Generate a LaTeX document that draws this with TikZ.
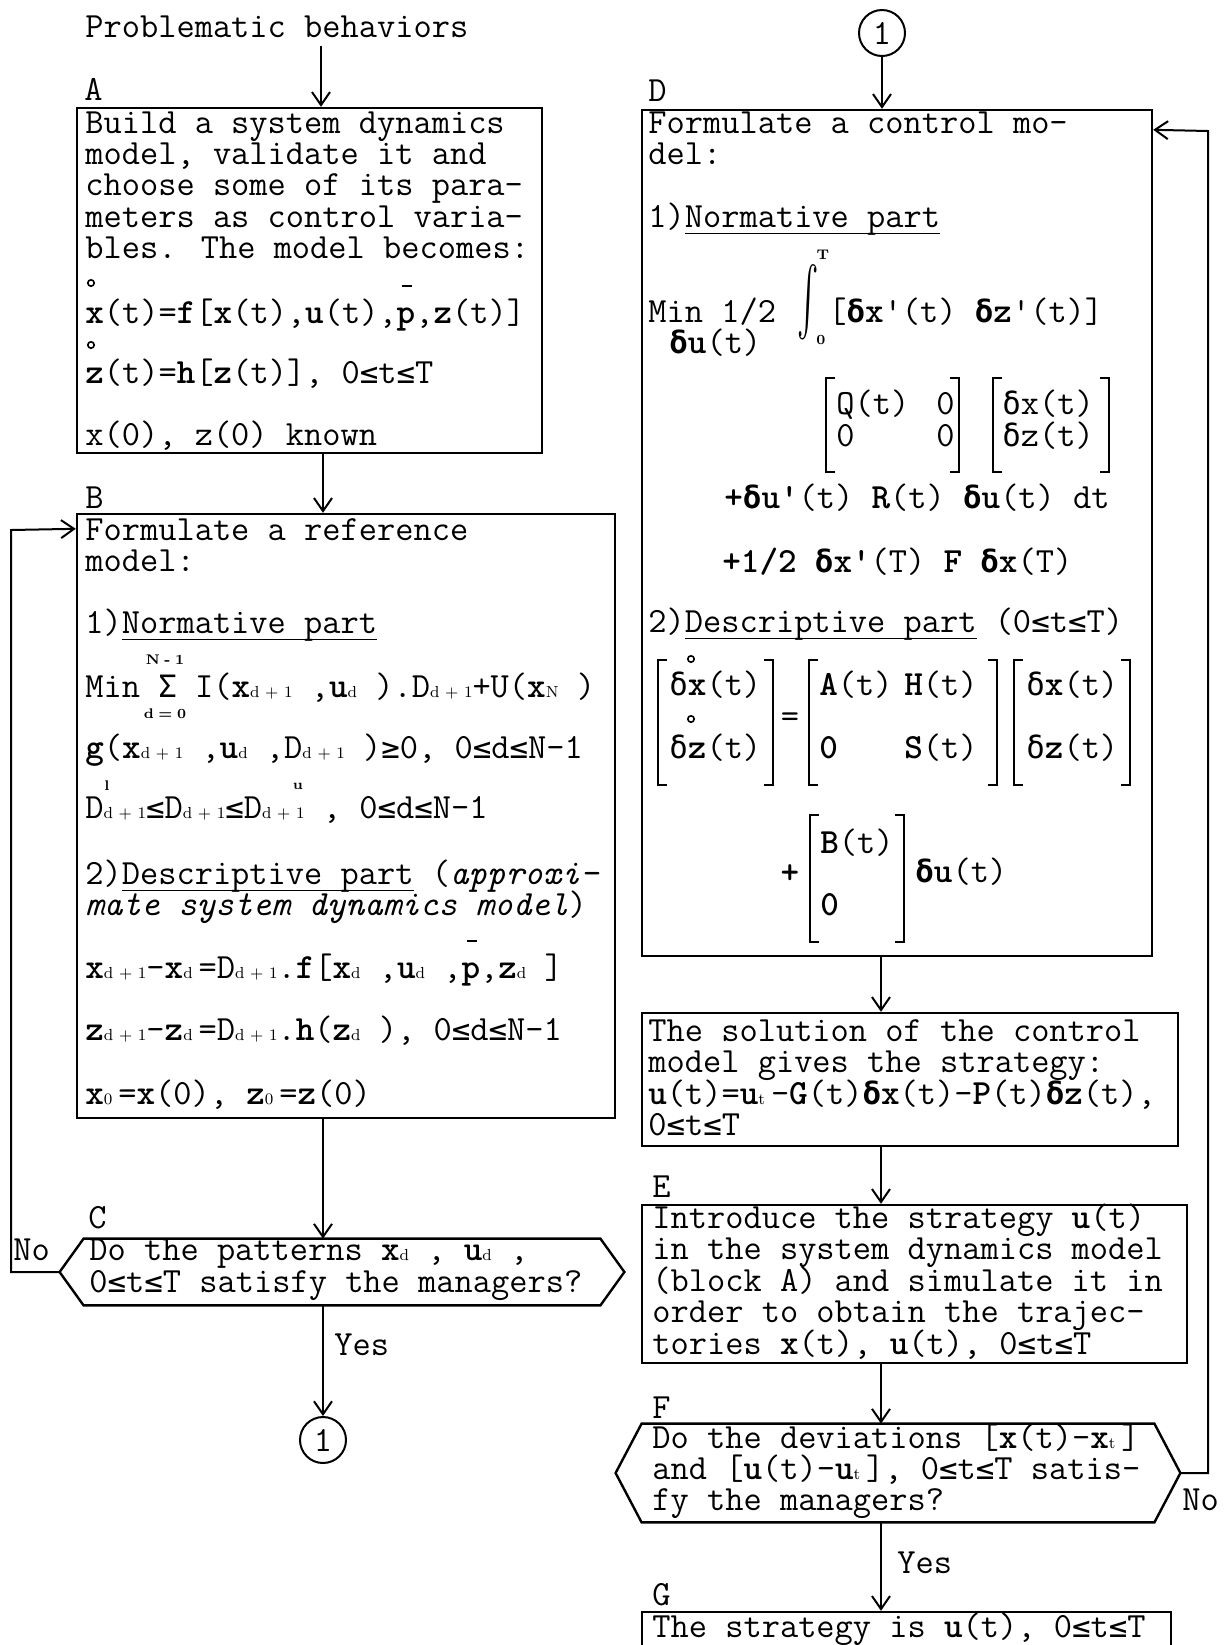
\documentclass[tikz,border=0pt]{standalone}
\usepackage{fontspec}
\newfontfamily\dvs{DejaVu Sans Mono}[Scale=0.87]
\usetikzlibrary{arrows.meta,fit,calc}
\newcommand\leqc{{\dvs ≤}}
\newcommand\geqc{{\dvs ≥}}
\newcommand\dlt{{\dvs δ}}
\newcommand\Sig{{\dvs Σ}}
\newlength\ulw
\newcommand\uln[1]{\settowidth\ulw{#1}\rlap{\rule[-3.5pt]{\ulw}{0.6pt}}#1}
\newcommand\subq[1]{{\fontsize{8}{8}\selectfont\rmfamily\mdseries\upshape #1}}
\newcommand\pbar{\rlap{\raisebox{18pt}{\hspace{2.6pt}\rule{5pt}{0.8pt}}}\textbf{p}}
\newcommand\mono{\ttfamily\fontsize{17.7}{20}\selectfont}
\newcommand\mkbox[5]{\coordinate (#1nw) at (#2,#3); \coordinate (#1se) at (#4,#5);
  \node[box,fit=(#1nw)(#1se)] (#1) {};}
\newcommand\mkhex[6]{\coordinate (#1nw) at (#2,#3); \coordinate (#1se) at (#4,#5);
  \node[inner sep=0pt,fit=(#1nw)(#1se)] (#1) {};
  \coordinate (#1w) at ($(#1.west)+(-#6,0)$); \coordinate (#1e) at ($(#1.east)+(#6,0)$);
  \draw[line width=1.2pt] (#1.north west) -- (#1.north east) -- (#1e) -- (#1.south east) -- (#1.south west) -- (#1w) -- cycle;}
\newcommand\lbr[4]{\draw[line width=1pt] (#1+9,#2) -- (#1,#2) -- (#1,#3) -- (#1+9,#3);}
\newcommand\rbr[4]{\draw[line width=1pt] (#1-9,#2) -- (#1,#2) -- (#1,#3) -- (#1-9,#3);}
\begin{document}
\begin{tikzpicture}[x=0.5pt,y=-0.5pt,
  txt/.style={anchor=base west,inner sep=0pt,font=\mono},
  sml/.style={anchor=center,inner sep=0pt,font=\fontsize{7}{7}\selectfont\rmfamily\bfseries},
  box/.style={draw,line width=1.2pt,inner sep=0pt},
  arr/.style={line width=1pt,-{Straight Barb[length=6.5pt,width=9pt]}},
  conn/.style={draw,circle,minimum size=23pt,inner sep=0pt,line width=1pt,font=\mono}]
\useasboundingbox (0,0) rectangle (1225,1645);
\clip (0,0) rectangle (1225,1645);

% ---------------- left column ----------------
\node[txt] (prob) at (85,37) {Problematic behaviors};
\node[txt] (labA) at (84,100) {A};
\mkbox{A}{77}{108}{542}{453}
\node[txt] (a1) at (85,133) {Build a system dynamics};
\node[txt] (a2) at (85,164) {model, validate it and};
\node[txt] (a3) at (85,195) {choose some of its para-};
\node[txt] (a4) at (85,227) {meters as control varia-};
\node[txt] (a5) at (85,258) {bles. The model becomes:};
\draw[line width=0.8pt] (91,283) circle[radius=1.6pt];
\node[txt] (a6) at (85,323) {\textbf{x}(t)=\textbf{f}[\textbf{x}(t),\textbf{u}(t),\pbar,\textbf{z}(t)]};
\draw[line width=0.8pt] (91,345) circle[radius=1.6pt];
\node[txt] (a7) at (85,383) {\textbf{z}(t)=\textbf{h}[\textbf{z}(t)], 0\leqc t\leqc T};
\node[txt] (a8) at (85,445) {x(0), z(0) known};

\node[txt] (labB) at (85,508) {B};
\mkbox{B}{77}{514}{615}{1118}
\node[txt] (b1) at (85,540) {Formulate a reference};
\node[txt] (b2) at (85,571) {model:};
\node[txt] (b3) at (85,633) {1)\uln{Normative part}};
\node[sml] (b4) at (165,660) {N\,\,-\,\,1};
\node[txt] (b5) at (85,697) {Min \Sig{} I(\textbf{x}\subq{d + 1} ,\textbf{u}\subq{d} ).D\subq{d + 1}+U(\textbf{x}\subq{N} )};
\node[sml] (b6) at (165,714) {d\,\,=\,\,0};
\node[txt] (b7) at (85,758) {\textbf{g}(\textbf{x}\subq{d + 1} ,\textbf{u}\subq{d} ,D\subq{d + 1} )\geqc 0, 0\leqc d\leqc N-1};
\node[sml] (b8) at (107,786) {l};
\node[sml] (b9) at (298,786) {u};
\node[txt] (b10) at (85,818) {D\subq{d + 1}\leqc D\subq{d + 1}\leqc D\subq{d + 1} , 0\leqc d\leqc N-1};
\node[txt] (b11) at (85,884) {2)\uln{Descriptive part} (\textit{approxi-}};
\node[txt] (b12) at (85,915) {\textit{mate system dynamics model})};
\node[txt] (b13) at (85,978) {\textbf{x}\subq{d + 1}-\textbf{x}\subq{d}\,=D\subq{d + 1}.\textbf{f}[\textbf{x}\subq{d} ,\textbf{u}\subq{d} ,\pbar,\textbf{z}\subq{d} ]};
\node[txt] (b14) at (85,1040) {\textbf{z}\subq{d + 1}-\textbf{z}\subq{d}\,=D\subq{d + 1}.\textbf{h}(\textbf{z}\subq{d} ), 0\leqc d\leqc N-1};
\node[txt] (b15) at (85,1104) {\textbf{x}\subq{0}\,=\textbf{x}(0), \textbf{z}\subq{0}\,=\textbf{z}(0)};

\node[txt] (labC) at (88,1228) {C};
\mkhex{C}{84}{1239}{600}{1305}{24}
\node[txt] (c1t) at (89,1260) {Do the patterns \textbf{x}\subq{d} , \textbf{u}\subq{d} ,};
\node[txt] (c2t) at (89,1292) {0\leqc t\leqc T satisfy the managers?};
\node[txt] (noL) at (13,1260) {No};
\node[txt] (yesL) at (334,1355) {Yes};
\node[conn] (k1) at (323,1440) {1};

\coordinate (axA) at (321,0);
\coordinate (axL) at (323,0);
\draw[arr] ([yshift=-4pt]prob.south -| axA) -- (A.north -| axA);
\draw[arr] (A.south -| axL) -- (B.north -| axL);
\draw[arr] (B.south -| axL) -- (C.north -| axL);
\draw[arr] (C.south -| axL) -- (k1.north);
\coordinate (Bin) at ($(B.north west)+(0,16)$);
\coordinate (lpL) at (11,530);
\draw[arr] (Cw) -| (lpL) -- (Bin);

% ---------------- right column ----------------
\node[conn] (k2) at (882,33) {1};
\node[txt] (labD) at (648,101) {D};
\mkbox{D}{642}{110}{1152}{956}
\node[txt] (d1) at (648,133) {Formulate a control mo-};
\node[txt] (d2) at (648,164) {del:};
\node[txt] (d3) at (648,227) {1)\uln{Normative part}};
\node[sml] (d4) at (823,255) {T};
\node[txt] (d5) at (648,322) {Min 1/2};
\node[inner sep=0pt] (d6) at (808,302) {\scalebox{1.6}[3.4]{$\int$}};
\node[txt] (d7) at (828,322) {[\textbf{\dlt x}'(t) \textbf{\dlt z}'(t)]};
\node[sml] (d8) at (821,340) {0};
\node[txt] (d9) at (669,353) {\textbf{\dlt u}(t)};
\lbr{826}{378}{472}{}
\rbr{959}{378}{472}{}
\node[txt] (q1) at (836,414) {Q(t)};
\node[txt] (q2) at (936,414) {0};
\node[txt] (q3) at (836,446) {0};
\node[txt] (q4) at (936,446) {0};
\lbr{993}{378}{472}{}
\rbr{1109}{378}{472}{}
\node[txt] (q5) at (1002,414) {\dlt x(t)};
\node[txt] (q6) at (1002,446) {\dlt z(t)};
\node[txt] (d10) at (724,508) {\textbf{+\dlt u'}(t) \textbf{R}(t) \textbf{\dlt u}(t) dt};
\node[txt] (d11) at (722,572) {\textbf{+1/2} \textbf{\dlt x'}(T) \textbf{F} \textbf{\dlt x}(T)};
\node[txt] (d12) at (648,632) {2)\uln{Descriptive part} (0\leqc t\leqc T)};
% state equation
\lbr{658}{660}{785}{}
\rbr{773}{660}{785}{}
\draw[line width=0.8pt] (691,659) circle[radius=1.6pt];
\draw[line width=0.8pt] (691,719) circle[radius=1.6pt];
\node[txt] (e1) at (669,695) {\dlt\textbf{x}(t)};
\node[txt] (e2) at (669,758) {\dlt\textbf{z}(t)};
\node[inner sep=0pt,font=\mono] (eq) at (790,720) {=};
\lbr{809}{660}{785}{}
\rbr{997}{660}{785}{}
\node[txt] (e3) at (819,695) {\textbf{A}(t)};
\node[txt] (e4) at (904,695) {\textbf{H}(t)};
\node[txt] (e5) at (819,758) {\textbf{0}};
\node[txt] (e6) at (904,758) {\textbf{S}(t)};
\lbr{1014}{660}{785}{}
\rbr{1130}{660}{785}{}
\node[txt] (e7) at (1026,695) {\dlt\textbf{x}(t)};
\node[txt] (e8) at (1026,758) {\dlt\textbf{z}(t)};
\node[inner sep=0pt,font=\mono\bfseries] (pl) at (790,874) {+};
\lbr{810}{815}{942}{}
\rbr{904}{815}{942}{}
\node[txt] (e9) at (820,853) {\textbf{B}(t)};
\node[txt] (e10) at (820,915) {\textbf{0}};
\node[txt] (e11) at (915,882) {\textbf{\dlt u}(t)};

\mkbox{S}{642}{1013}{1178}{1146}
\node[txt] (s1) at (648,1041) {The solution of the control};
\node[txt] (s2) at (648,1072) {model gives the strategy:};
\node[txt] (s3) at (648,1104) {\textbf{u}(t)=\textbf{u}\subq{t}\,-\textbf{G}(t)\textbf{\dlt x}(t)-\textbf{P}(t)\textbf{\dlt z}(t),};
\node[txt] (s4) at (648,1135) {0\leqc t\leqc T};

\node[txt] (labE) at (652,1197) {E};
\mkbox{E}{642}{1205}{1187}{1363}
\node[txt] (f1) at (652,1228) {Introduce the strategy \textbf{u}(t)};
\node[txt] (f2) at (652,1259) {in the system dynamics model};
\node[txt] (f3) at (652,1291) {(block A) and simulate it in};
\node[txt] (f4) at (652,1322) {order to obtain the trajec-};
\node[txt] (f5) at (652,1354) {tories \textbf{x}(t), \textbf{u}(t), 0\leqc t\leqc T};

\node[txt] (labF) at (652,1418) {F};
\mkhex{F}{642}{1424}{1154}{1522}{26}
\node[txt] (g1) at (652,1448) {Do the deviations [\textbf{x}(t)-\textbf{x}\subq{t}\,]};
\node[txt] (g2) at (652,1479) {and [\textbf{u}(t)-\textbf{u}\subq{t}\,], 0\leqc t\leqc T satis-};
\node[txt] (g3) at (652,1510) {fy the managers?};
\node[txt] (noR) at (1182,1510) {No};
\node[txt] (yesR) at (897,1573) {Yes};

\node[txt] (labG) at (652,1605) {G};
\mkbox{G}{642}{1612}{1171}{1665}
\node[txt] (h1) at (652,1637) {The strategy is \textbf{u}(t), 0\leqc t\leqc T};

\coordinate (axR) at (881,0);
\draw[arr] (k2.south) -- (D.north -| k2);
\draw[arr] (D.south -| axR) -- (S.north -| axR);
\draw[arr] (S.south -| axR) -- (E.north -| axR);
\draw[arr] (E.south -| axR) -- (F.north -| axR);
\draw[arr] (F.south -| axR) -- (G.north -| axR);
\coordinate (Din) at ($(D.north east)+(0,21)$);
\coordinate (lpR) at (1208,131);
\draw[arr] (Fe) -| (lpR) -- (Din);
\end{tikzpicture}
\end{document}
